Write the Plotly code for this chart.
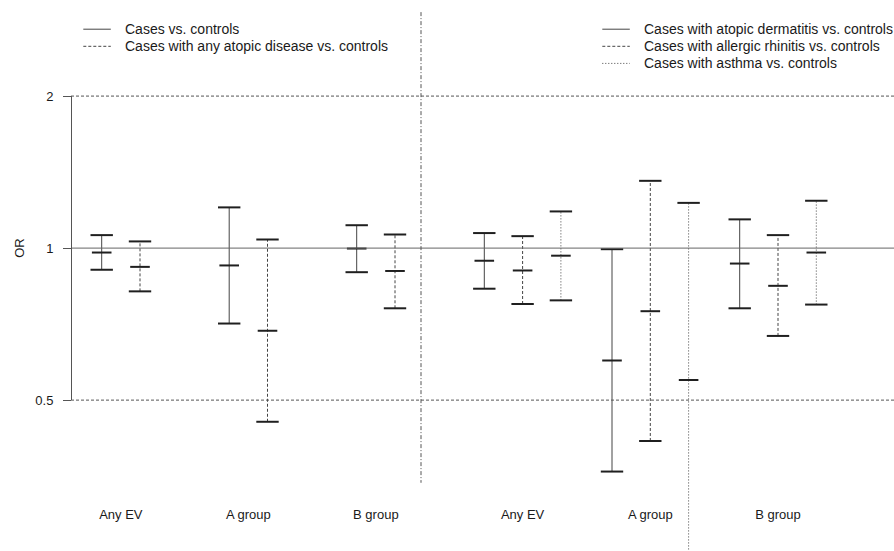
import math
import plotly.graph_objects as go

# ---------------- data ----------------
groups = ["Any EV", "A group", "B group"]

left_series = ["Cases vs. controls",
               "Cases with any atopic disease vs. controls"]
left_or = [[0.980, 0.924, 0.998],
           [0.918, 0.686, 0.901]]
left_lo = [[0.906, 0.709, 0.896],
           [0.821, 0.453, 0.760]]
left_hi = [[1.061, 1.204, 1.110],
           [1.031, 1.040, 1.064]]

right_series = ["Cases with atopic dermatitis vs. controls",
                "Cases with allergic rhinitis vs. controls",
                "Cases with asthma vs. controls"]
right_or = [[0.944, 0.599, 0.932],
            [0.903, 0.750, 0.842],
            [0.966, 0.548, 0.980]]
right_lo = [[0.831, 0.361, 0.760],
            [0.775, 0.415, 0.670],
            [0.788, 0.230, 0.773]]
right_hi = [[1.071, 0.995, 1.140],
            [1.056, 1.359, 1.061],
            [1.182, 1.229, 1.241]]

y_tickvals = [0.5, 1, 2]
y_ticktext = ["0.5", "1", "2"]
ref_dashed = [0.5, 2]
ref_solid = [1]

# ---------------- layout constants ----------------
W, H = 894, 551
ML = 71
X_RANGE = [71, 894]
Y_RANGE = [-0.5998, 0.4913]          # log10 units
FONT = "Liberation Sans, Arial, sans-serif"
TXT = "#1a1a1a"
LINE = "#444444"
CAP = "#1f1f1f"
DASHES = ["solid", "3px,2px", "1px,2px"]

panels = [
    dict(start=101.7, bar=38.3, group=127.5, names=left_series,
         est=left_or, lo=left_lo, hi=left_hi, leg_x=83.3, leg_text=123.0),
    dict(start=484.3, bar=38.3, group=127.7, names=right_series,
         est=right_or, lo=right_lo, hi=right_hi, leg_x=602.3, leg_text=641.5),
]
DIVIDER_X = 421
DIVIDER_Y = [2.933, 0.343]
LEG_ROW0 = 29.2
LEG_STEP = 17.1
LEG_LEN = 27.5

fig = go.Figure()

tickvals_x, ticktext_x = [], []
shapes, annotations = [], []

for p in panels:
    n = len(p["names"])
    for g, gname in enumerate(groups):
        centre = p["start"] + g * p["group"] + (n - 1) * p["bar"] / 2
        tickvals_x.append(centre)
        ticktext_x.append(gname)
    for s, name in enumerate(p["names"]):
        xs = [p["start"] + g * p["group"] + s * p["bar"] for g in range(len(groups))]
        lx, ly = [], []
        for g in range(len(groups)):
            lx += [xs[g], xs[g], None]
            ly += [p["lo"][s][g], p["hi"][s][g], None]
        fig.add_trace(go.Scatter(
            x=lx, y=ly, mode="lines", name=name, showlegend=False,
            line=dict(color=LINE, width=1, dash=DASHES[s]), hoverinfo="skip"))
        fig.add_trace(go.Scatter(
            x=xs + xs, y=p["lo"][s] + p["hi"][s], mode="markers", showlegend=False,
            marker=dict(symbol="line-ew", size=16, color=CAP,
                        line=dict(color=CAP, width=2)),
            hoverinfo="skip"))
        fig.add_trace(go.Scatter(
            x=xs, y=p["est"][s], mode="markers", showlegend=False,
            marker=dict(symbol="line-ew", size=14, color=CAP,
                        line=dict(color=CAP, width=2)),
            name=name))
        # custom legend entry
        yrow = 1 - (LEG_ROW0 + s * LEG_STEP) / H
        shapes.append(dict(type="line", xref="x", yref="paper",
                           x0=p["leg_x"], x1=p["leg_x"] + LEG_LEN, y0=yrow, y1=yrow,
                           line=dict(color=LINE, width=1, dash=DASHES[s])))
        annotations.append(dict(xref="x", yref="paper", x=p["leg_text"], y=yrow,
                                text=name, showarrow=False, xanchor="left",
                                yanchor="middle",
                                font=dict(family=FONT, size=14, color=TXT)))

# reference lines
for v in ref_dashed:
    fig.add_trace(go.Scatter(x=X_RANGE, y=[v, v], mode="lines", showlegend=False,
                             line=dict(color="#555555", width=1, dash="3px,2px"),
                             hoverinfo="skip"))
for v in ref_solid:
    fig.add_trace(go.Scatter(x=X_RANGE, y=[v, v], mode="lines", showlegend=False,
                             line=dict(color="#666666", width=1),
                             hoverinfo="skip"))
# divider
fig.add_trace(go.Scatter(x=[DIVIDER_X, DIVIDER_X], y=DIVIDER_Y, mode="lines",
                         showlegend=False,
                         line=dict(color="#555555", width=1, dash="4px,2px,1px,2px"),
                         hoverinfo="skip"))

# dummy trace for the visible OR axis
fig.add_trace(go.Scatter(x=[None], y=[None], yaxis="y2", showlegend=False))

lo_d = (math.log10(y_tickvals[0]) - Y_RANGE[0]) / (Y_RANGE[1] - Y_RANGE[0])
hi_d = (math.log10(y_tickvals[-1]) - Y_RANGE[0]) / (Y_RANGE[1] - Y_RANGE[0])

fig.update_layout(
    width=W, height=H,
    margin=dict(l=ML, r=0, t=0, b=0, pad=0, autoexpand=False),
    paper_bgcolor="white", plot_bgcolor="rgba(0,0,0,0)",
    showlegend=False,
    font=dict(family=FONT, size=13, color=TXT),
    xaxis=dict(range=X_RANGE, showgrid=False, zeroline=False, showline=False,
               ticks="", tickvals=tickvals_x, ticktext=ticktext_x,
               tickfont=dict(family=FONT, size=13, color=TXT),
               anchor="free", position=0.0826, automargin=False, fixedrange=True),
    yaxis=dict(type="log", range=Y_RANGE, visible=False, domain=[0, 1],
               automargin=False, fixedrange=True),
    yaxis2=dict(type="log", range=[math.log10(y_tickvals[0]), math.log10(y_tickvals[-1])],
                domain=[lo_d, hi_d], anchor="free", position=0,
                showgrid=False, zeroline=False,
                showline=True, linecolor="#555555", linewidth=1,
                ticks="outside", ticklen=8, tickcolor="#555555", tickwidth=1,
                tickvals=y_tickvals, ticktext=y_ticktext,
                tickfont=dict(family=FONT, size=13, color=TXT),
                ticklabelstandoff=7,
                title=dict(text="OR", standoff=6,
                           font=dict(family=FONT, size=13, color=TXT)),
                automargin=False, fixedrange=True),
    shapes=shapes, annotations=annotations,
)

fig.write_html("out.html", config={"displayModeBar": False},
               post_script="document.body.style.margin='0px';")
